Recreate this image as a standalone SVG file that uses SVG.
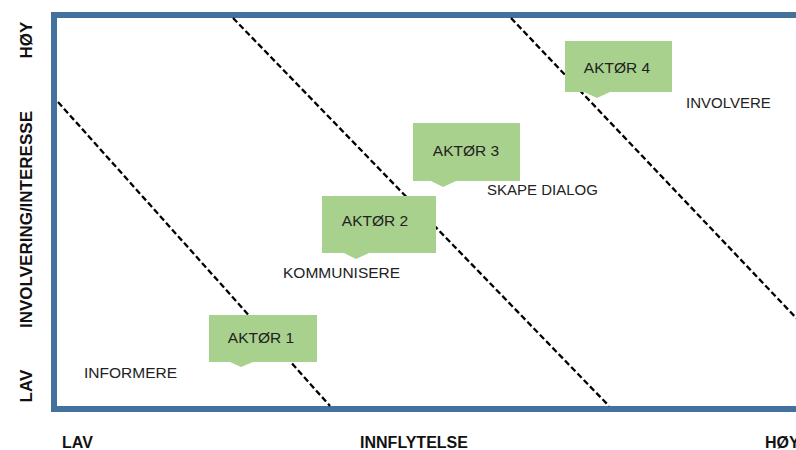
<svg xmlns="http://www.w3.org/2000/svg" width="796" height="450" viewBox="0 0 796 450">
<style>
.lbl{font-family:"Liberation Sans",Arial,sans-serif;font-size:15.5px;fill:#222}
.ax{font-family:"Liberation Sans",Arial,sans-serif;font-weight:bold;fill:#111}
.box{fill:#A9D18E}
.dash{stroke:#000;stroke-width:2.3;stroke-dasharray:6 3;fill:none}
</style>
<rect width="796" height="450" fill="#fff"/>
<rect id="frame" x="54" y="15" width="800" height="394" fill="#fff" stroke="#41719C" stroke-width="6"/>
<g id="connectors">
<line class="dash" x1="58" y1="102" x2="330" y2="406"/>
<line class="dash" x1="233" y1="18" x2="609" y2="406"/>
<line class="dash" x1="511" y1="18" x2="800" y2="322"/>
</g>
<g id="aktor1">
<path class="box" d="M209,315 H317 V362 H253 L241,367 L230,362 H209 Z"/>
<text class="lbl" x="261" y="343" text-anchor="middle">AKTØR 1</text>
</g>
<g id="aktor2">
<path class="box" d="M322,196 H436 V253 H369 L356,259 L344,253 H322 Z"/>
<text class="lbl" x="375" y="226" text-anchor="middle">AKTØR 2</text>
</g>
<g id="aktor3">
<path class="box" d="M413,123 H520 V181 H456 L443,187 L431,181 H413 Z"/>
<text class="lbl" x="466" y="156" text-anchor="middle">AKTØR 3</text>
</g>
<g id="aktor4">
<path class="box" d="M565,41 H672 V92 H610 L597,98 L584,92 H565 Z"/>
<text class="lbl" x="617" y="73" text-anchor="middle">AKTØR 4</text>
</g>
<g id="zones">
<text class="lbl" x="84" y="378">INFORMERE</text>
<text class="lbl" x="283" y="278">KOMMUNISERE</text>
<text class="lbl" x="487" y="195" style="font-size:15px">SKAPE DIALOG</text>
<text class="lbl" x="686" y="108" style="font-size:15px">INVOLVERE</text>
</g>
<g id="axes">
<text class="ax" font-size="16" x="62" y="448">LAV</text>
<text class="ax" font-size="16" x="414" y="448" text-anchor="middle">INNFLYTELSE</text>
<text class="ax" font-size="16" x="765" y="448">HØY</text>
<text class="ax" font-size="17" transform="translate(32,40) rotate(-90)" text-anchor="middle">HØY</text>
<text class="ax" font-size="17" transform="translate(32,219.5) rotate(-90)" text-anchor="middle">INVOLVERING/INTERESSE</text>
<text class="ax" font-size="17" transform="translate(32,386) rotate(-90)" text-anchor="middle">LAV</text>
</g>
</svg>
